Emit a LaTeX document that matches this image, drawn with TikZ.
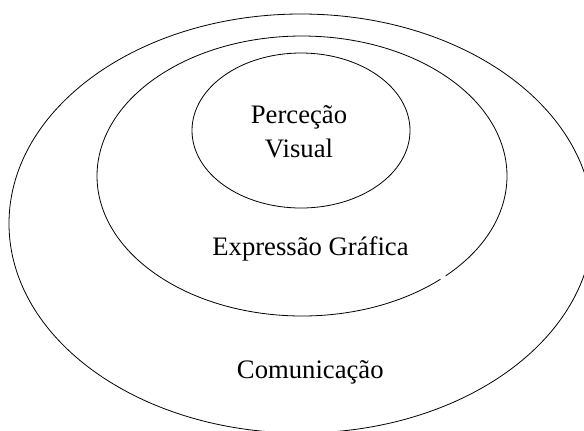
\documentclass[tikz,border=0pt]{standalone}
\usepackage{fontspec}
\setmainfont{Liberation Serif}
\begin{document}
\begin{tikzpicture}[x=0.75pt,y=-0.75pt,
  ring/.style={draw=black,line width=0.6pt},
  lbl/.style={anchor=base,inner sep=0pt,font=\fontsize{20}{24}\selectfont}]
\useasboundingbox (0,0) rectangle (584,430);
\clip (0,0) rectangle (584,430);
\coordinate (outerc) at (301,223.5);
\coordinate (midc) at (302,176);
\coordinate (innerc) at (301,130.5);
% outer ring
\draw[ring] (outerc) ellipse [x radius=219pt, y radius=157.125pt];
% middle ring with small gap
\draw[ring] ([shift={(-45.5:153.75pt and 105pt)}]midc)
  arc[start angle=-45.5, end angle=312.5, x radius=153.75pt, y radius=105pt];
% inner ring
\draw[ring] (innerc) ellipse [x radius=81.75pt, y radius=58.125pt];
\node[lbl] (perc) at (299,123.3) {Perceção};
\node[lbl] (vis) at (299,157.3) {Visual};
\node[lbl] (expr) at (310.5,255) {Expressão Gráfica};
\node[lbl] (com) at (310.3,378.3) {Comunicação};
\end{tikzpicture}
\end{document}
